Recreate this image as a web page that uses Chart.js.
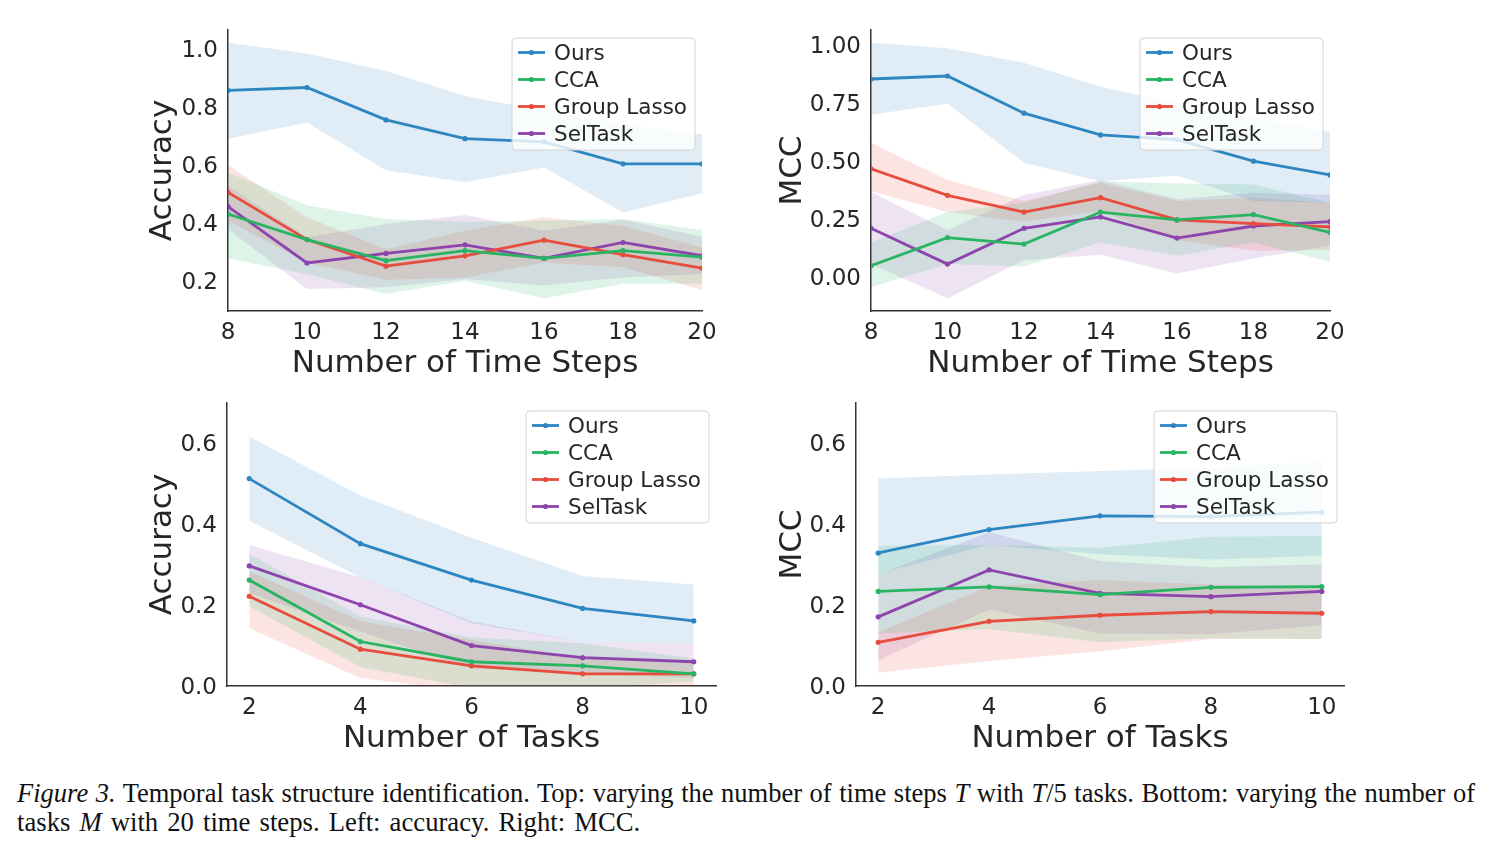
<!DOCTYPE html>
<html>
<head>
<meta charset="utf-8">
<script src="https://cdn.jsdelivr.net/npm/chart.js@4.4.1/dist/chart.umd.min.js"></script>
<style>
  body { margin: 0; width: 1491px; height: 853px; background: #fff; position: relative; overflow: hidden; }
  canvas { position: absolute; }
  .cap {
    position: absolute; left: 17px; width: 1458px;
    font-family: 'Liberation Serif', 'Times New Roman', serif; line-height: 29px; color: #111;
  }
  #cap1 { top: 779px; font-size: 26.5px; text-align: justify; text-align-last: justify; }
  #cap2 { top: 808px; font-size: 26.7px; word-spacing: 2.4px; }
</style>
</head>
<body>
<canvas id="accSteps"></canvas>
<canvas id="mccSteps"></canvas>
<canvas id="accTasks"></canvas>
<canvas id="mccTasks"></canvas>
<div class="cap" id="cap1"><i>Figure 3.</i> Temporal task structure identification. Top: varying the number of time steps <i>T</i> with <i>T</i>/5 tasks. Bottom: varying the number of</div>
<div class="cap" id="cap2">tasks <i>M</i> with 20 time steps. Left: accuracy. Right: MCC.</div>
<script>
// x values and ticks
const steps = [8, 10, 12, 14, 16, 18, 20];
const tasks = [2, 4, 6, 8, 10];
const methods = ['Ours', 'CCA', 'Group Lasso', 'SelTask'];
const accStepsTicks = [0.2, 0.4, 0.6, 0.8, 1.0];
const mccStepsTicks = [0.0, 0.25, 0.5, 0.75, 1.0];
const tasksYTicks = [0.0, 0.2, 0.4, 0.6];

// top left: accuracy vs number of time steps (mean, lower, upper)
const accStepsOurs   = [0.858, 0.868, 0.756, 0.691, 0.680, 0.604, 0.604];
const accStepsOursLo = [0.691, 0.747, 0.582, 0.540, 0.591, 0.436, 0.502];
const accStepsOursHi = [1.023, 0.986, 0.925, 0.839, 0.787, 0.741, 0.706];
const accStepsCCA    = [0.430, 0.342, 0.269, 0.304, 0.277, 0.304, 0.281];
const accStepsCCALo  = [0.277, 0.223, 0.154, 0.200, 0.139, 0.189, 0.189];
const accStepsCCAHi  = [0.574, 0.461, 0.413, 0.404, 0.407, 0.413, 0.375];
const accStepsGL     = [0.505, 0.342, 0.250, 0.286, 0.340, 0.290, 0.243];
const accStepsGLLo   = [0.407, 0.263, 0.203, 0.211, 0.263, 0.246, 0.168];
const accStepsGLHi   = [0.600, 0.419, 0.309, 0.373, 0.419, 0.390, 0.315];
const accStepsSel    = [0.456, 0.261, 0.294, 0.324, 0.277, 0.332, 0.286];
const accStepsSelLo  = [0.378, 0.171, 0.177, 0.206, 0.183, 0.211, 0.223];
const accStepsSelHi  = [0.528, 0.350, 0.396, 0.427, 0.373, 0.411, 0.352];

// top right: MCC vs number of time steps
const mccStepsOurs   = [0.854, 0.867, 0.707, 0.613, 0.593, 0.500, 0.441];
const mccStepsOursLo = [0.700, 0.747, 0.493, 0.414, 0.439, 0.329, 0.321];
const mccStepsOursHi = [1.010, 0.986, 0.924, 0.821, 0.750, 0.686, 0.626];
const mccStepsCCA    = [0.050, 0.171, 0.143, 0.281, 0.247, 0.270, 0.193];
const mccStepsCCALo  = [-0.043, 0.057, 0.047, 0.150, 0.093, 0.150, 0.067];
const mccStepsCCAHi  = [0.150, 0.281, 0.321, 0.414, 0.404, 0.400, 0.321];
const mccStepsGL     = [0.467, 0.353, 0.281, 0.343, 0.247, 0.231, 0.217];
const mccStepsGLLo   = [0.371, 0.281, 0.239, 0.286, 0.161, 0.114, 0.119];
const mccStepsGLHi   = [0.579, 0.419, 0.329, 0.407, 0.329, 0.343, 0.321];
const mccStepsSel    = [0.211, 0.057, 0.211, 0.260, 0.169, 0.221, 0.240];
const mccStepsSelLo  = [0.057, -0.090, 0.074, 0.097, 0.017, 0.081, 0.136];
const mccStepsSelHi  = [0.367, 0.204, 0.354, 0.419, 0.336, 0.364, 0.354];

// bottom left: accuracy vs number of tasks
const accTasksOurs   = [0.513, 0.352, 0.262, 0.192, 0.161];
const accTasksOursLo = [0.409, 0.269, 0.155, 0.108, 0.106];
const accTasksOursHi = [0.617, 0.471, 0.367, 0.272, 0.251];
const accTasksCCA    = [0.262, 0.110, 0.060, 0.050, 0.030];
const accTasksCCALo  = [0.197, 0.047, -0.005, -0.008, 0.012];
const accTasksCCAHi  = [0.327, 0.172, 0.120, 0.106, 0.068];
const accTasksGL     = [0.222, 0.091, 0.050, 0.030, 0.030];
const accTasksGLLo   = [0.143, 0.020, -0.015, -0.020, -0.010];
const accTasksGLHi   = [0.284, 0.160, 0.114, 0.068, 0.060];
const accTasksSel    = [0.297, 0.201, 0.100, 0.070, 0.060];
const accTasksSelLo  = [0.230, 0.135, 0.043, 0.031, 0.020];
const accTasksSelHi  = [0.349, 0.269, 0.160, 0.108, 0.106];

// bottom right: MCC vs number of tasks
const mccTasksOurs   = [0.329, 0.387, 0.421, 0.419, 0.430];
const mccTasksOursLo = [0.278, 0.349, 0.326, 0.313, 0.322];
const mccTasksOursHi = [0.513, 0.523, 0.532, 0.540, 0.554];
const mccTasksCCA    = [0.234, 0.245, 0.226, 0.244, 0.246];
const mccTasksCCALo  = [0.130, 0.141, 0.108, 0.118, 0.116];
const mccTasksCCAHi  = [0.347, 0.349, 0.342, 0.369, 0.371];
const mccTasksGL     = [0.108, 0.160, 0.175, 0.184, 0.180];
const mccTasksGLLo   = [0.033, 0.062, 0.086, 0.116, 0.116];
const mccTasksGLHi   = [0.133, 0.247, 0.262, 0.251, 0.247];
const mccTasksSel    = [0.171, 0.287, 0.229, 0.221, 0.234];
const mccTasksSelLo  = [0.064, 0.189, 0.130, 0.128, 0.150];
const mccTasksSelHi  = [0.276, 0.380, 0.309, 0.294, 0.301];

const colors = ['#2e86c1', '#28b463', '#e74c3c', '#8e44ad'];
const font = "'DejaVu Sans', sans-serif";
const ink = '#262626';

function rgba(hex, a) {
  const n = parseInt(hex.slice(1), 16);
  return `rgba(${n >> 16},${(n >> 8) & 255},${n & 255},${a})`;
}

// matplotlib-like legend box in the upper right corner of the plot area
const legendBox = {
  id: 'legendBox',
  afterDraw(chart) {
    const ctx = chart.ctx, area = chart.chartArea;
    ctx.save();
    ctx.font = '21.5px ' + font;
    const tw = Math.max(...methods.map(m => ctx.measureText(m).width));
    const w = 42 + tw + 8, h = 112;
    const x = area.right - 7 - w, y = area.top + 8;
    ctx.beginPath();
    ctx.roundRect(x, y, w, h, 4);
    ctx.fillStyle = 'rgba(255,255,255,0.8)';
    ctx.fill();
    ctx.strokeStyle = '#d4d4d4';
    ctx.lineWidth = 1;
    ctx.stroke();
    methods.forEach((m, i) => {
      const cy = y + 14.5 + i * 27;
      ctx.strokeStyle = colors[i];
      ctx.lineWidth = 2.8;
      ctx.beginPath(); ctx.moveTo(x + 6, cy); ctx.lineTo(x + 33, cy); ctx.stroke();
      ctx.fillStyle = colors[i];
      ctx.beginPath(); ctx.arc(x + 19.5, cy, 2.6, 0, Math.PI * 2); ctx.fill();
      ctx.fillStyle = ink;
      ctx.textBaseline = 'middle';
      ctx.fillText(m, x + 42, cy + 1.5);
    });
    ctx.restore();
  }
};

function pts(xs, ys) { return xs.map((x, i) => ({ x: x, y: ys[i] })); }

function panel(id, p) {
  const xH = 72;
  const cv = document.getElementById(id);
  cv.width = p.plotRight + 19 - p.left;
  cv.height = p.plotBottom + xH - p.top;
  cv.style.left = p.left + 'px'; cv.style.top = p.top + 'px';

  const lines = p.series.map((s, i) => ({
    data: pts(p.xs, s[0]), borderColor: colors[i], backgroundColor: colors[i],
    borderWidth: 2.8, pointRadius: 2.6, pointBorderWidth: 0, fill: false, tension: 0
  }));
  const bands = [];
  p.series.forEach((s, i) => {
    bands.push({ data: pts(p.xs, s[2]), borderColor: 'rgba(0,0,0,0)', borderWidth: 0, pointRadius: 0, fill: false });
    bands.push({ data: pts(p.xs, s[1]), borderColor: 'rgba(0,0,0,0)', borderWidth: 0, pointRadius: 0,
                 fill: '-1', backgroundColor: rgba(colors[i], 0.15) });
  });

  new Chart(cv, {
    type: 'line',
    data: { datasets: lines.concat(bands) },
    plugins: [legendBox],
    options: {
      responsive: false, animation: false,
      layout: { padding: { left: 14, top: 10, right: 19, bottom: 0 } },
      plugins: { legend: { display: false }, tooltip: { enabled: false } },
      scales: {
        x: {
          type: 'linear', min: p.xMin, max: p.xMax,
          afterBuildTicks: s => { s.ticks = p.xTicks.map(v => ({ value: v })); },
          afterFit: s => { s.height = xH; s.paddingLeft = 0; s.paddingRight = 0; },
          grid: { display: false, drawTicks: false },
          border: { display: true, color: '#333', width: 1.5 },
          ticks: { color: ink, font: { family: font, size: 23 }, padding: 8, maxRotation: 0, autoSkip: false,
                   callback: v => String(v) },
          title: { display: true, text: p.xTitle, color: ink, font: { family: font, size: 31 }, padding: 0 }
        },
        y: {
          min: p.yMin, max: p.yMax,
          afterBuildTicks: s => { s.ticks = p.yTicks.map(v => ({ value: v })); },
          afterFit: s => { s.width = p.plotLeft - p.left - 14; s.paddingTop = 0; s.paddingBottom = 0; },
          grid: { display: false, drawTicks: false },
          border: { display: true, color: '#333', width: 1.5 },
          ticks: { color: ink, font: { family: font, size: 23 }, padding: 10, autoSkip: false, labelOffset: 2,
                   callback: v => v.toFixed(p.yDigits) },
          title: { display: true, text: p.yTitle, color: ink, font: { family: font, size: 31 }, padding: 0 }
        }
      }
    }
  });
}

panel('accSteps', {
  left: 130, top: 20, plotLeft: 228, plotRight: 702, plotBottom: 311,
  xs: steps, xMin: 8, xMax: 20, xTicks: steps, yMin: 0.095, yMax: 1.067, yTicks: accStepsTicks, yDigits: 1,
  xTitle: 'Number of Time Steps', yTitle: 'Accuracy',
  series: [[accStepsOurs, accStepsOursLo, accStepsOursHi], [accStepsCCA, accStepsCCALo, accStepsCCAHi],
           [accStepsGL, accStepsGLLo, accStepsGLHi], [accStepsSel, accStepsSelLo, accStepsSelHi]]
});
panel('mccSteps', {
  left: 760, top: 20, plotLeft: 871, plotRight: 1330, plotBottom: 311,
  xs: steps, xMin: 8, xMax: 20, xTicks: steps, yMin: -0.145, yMax: 1.065, yTicks: mccStepsTicks, yDigits: 2,
  xTitle: 'Number of Time Steps', yTitle: 'MCC',
  series: [[mccStepsOurs, mccStepsOursLo, mccStepsOursHi], [mccStepsCCA, mccStepsCCALo, mccStepsCCAHi],
           [mccStepsGL, mccStepsGLLo, mccStepsGLHi], [mccStepsSel, mccStepsSelLo, mccStepsSelHi]]
});
panel('accTasks', {
  left: 130, top: 393, plotLeft: 227, plotRight: 716, plotBottom: 686,
  xs: tasks, xMin: 1.6, xMax: 10.4, xTicks: tasks, yMin: 0, yMax: 0.7, yTicks: tasksYTicks, yDigits: 1,
  xTitle: 'Number of Tasks', yTitle: 'Accuracy',
  series: [[accTasksOurs, accTasksOursLo, accTasksOursHi], [accTasksCCA, accTasksCCALo, accTasksCCAHi],
           [accTasksGL, accTasksGLLo, accTasksGLHi], [accTasksSel, accTasksSelLo, accTasksSelHi]]
});
panel('mccTasks', {
  left: 760, top: 393, plotLeft: 856, plotRight: 1344, plotBottom: 686,
  xs: tasks, xMin: 1.6, xMax: 10.4, xTicks: tasks, yMin: 0, yMax: 0.7, yTicks: tasksYTicks, yDigits: 1,
  xTitle: 'Number of Tasks', yTitle: 'MCC',
  series: [[mccTasksOurs, mccTasksOursLo, mccTasksOursHi], [mccTasksCCA, mccTasksCCALo, mccTasksCCAHi],
           [mccTasksGL, mccTasksGLLo, mccTasksGLHi], [mccTasksSel, mccTasksSelLo, mccTasksSelHi]]
});
</script>
</body>
</html>
